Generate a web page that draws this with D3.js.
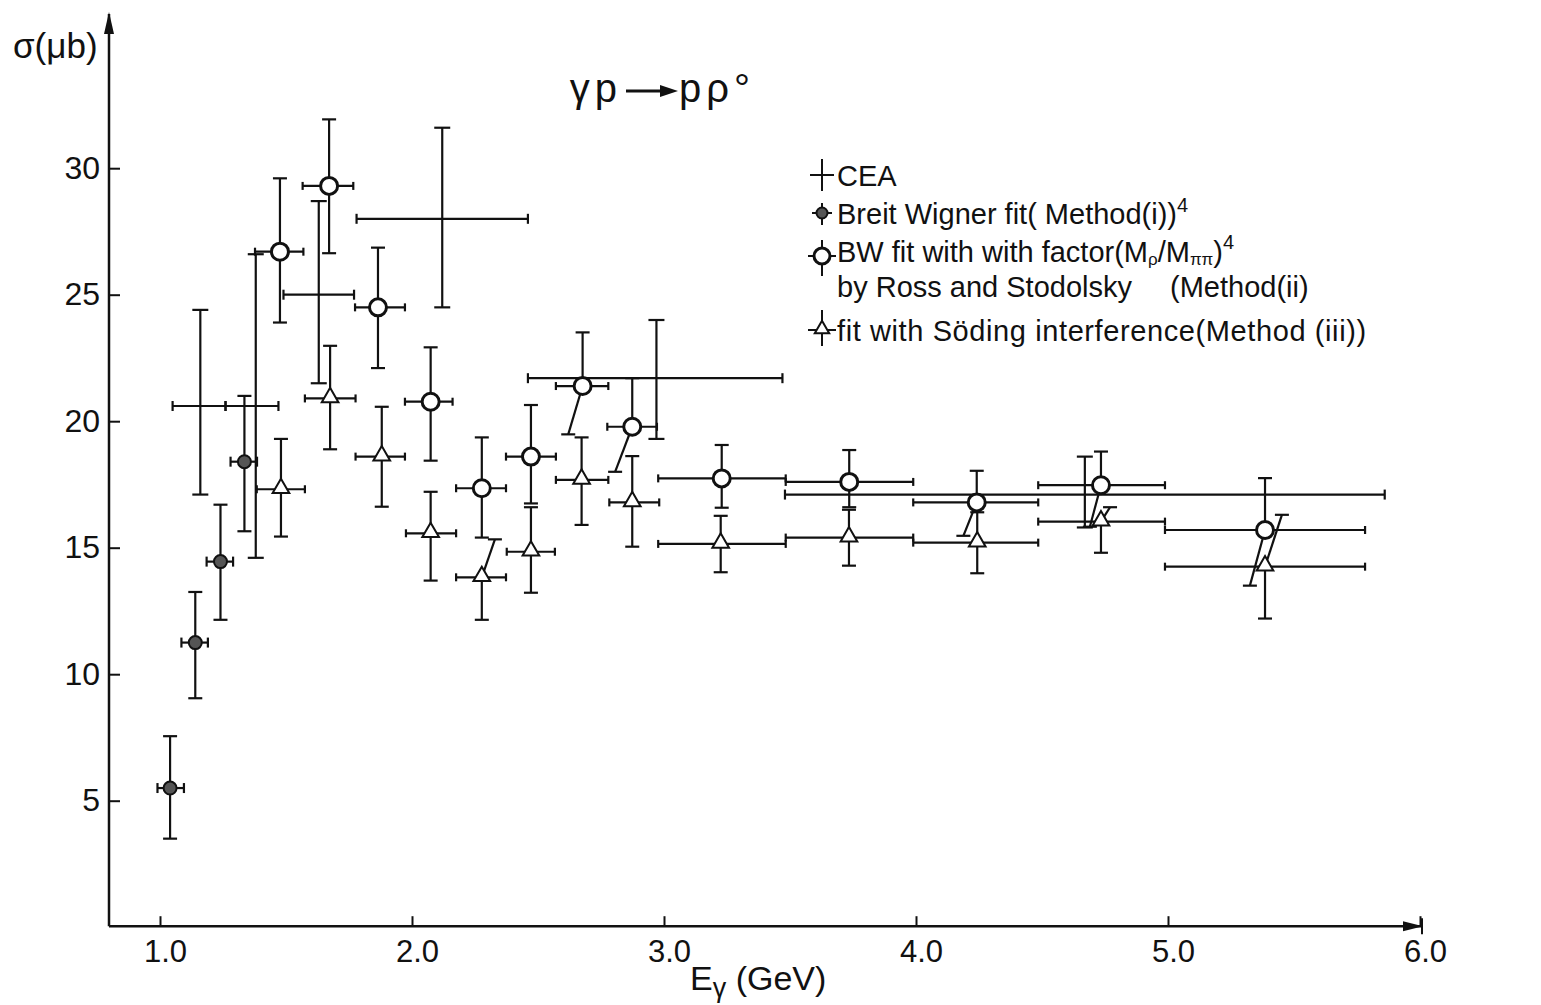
<!DOCTYPE html>
<html>
<head>
<meta charset="utf-8">
<script src="https://cdn.jsdelivr.net/npm/d3@7"></script>
<style>
  body { margin: 0; background: #fff; }
  svg text { font-family: "Liberation Sans", Arial, sans-serif; fill: #111; }
</style>
</head>
<body>
<svg id="chart"></svg>
<script>
// gamma p -> p rho0 cross section vs photon energy

// CEA points (plain crosses)
const ceaE     = [1.16, 1.38, 1.63, 2.12, 2.97, 4.67];
const ceaSig   = [20.6, 20.6, 25.0, 28.0, 21.7, 17.1];
const ceaELo   = [1.05, 1.26, 1.49, 1.78, 2.46, 3.48];
const ceaEHi   = [1.26, 1.47, 1.77, 2.46, 3.47, 5.86];
const ceaSigLo = [17.1, 14.6, 21.5, 24.5, 19.3, 15.8];
const ceaSigHi = [24.4, 26.6, 28.7, 31.6, 24.0, 18.6];

// Breit Wigner fit, method (i) (filled dots)
const bwE     = [1.04, 1.14, 1.24, 1.335];
const bwSig   = [5.5, 11.25, 14.45, 18.4];
const bwELo   = [0.99, 1.085, 1.185, 1.28];
const bwEHi   = [1.095, 1.19, 1.29, 1.385];
const bwSigLo = [3.5, 9.05, 12.15, 15.65];
const bwSigHi = [7.55, 13.25, 16.7, 21.0];

// BW fit with (M_rho/M_pipi)^4 factor, method (ii) (open circles)
const rsE     = [1.476, 1.671, 1.865, 2.074, 2.277, 2.472, 2.677, 2.874, 3.229, 3.735, 4.241, 4.734, 5.385];
const rsSig   = [26.7, 29.3, 24.5, 20.77, 17.35, 18.6, 21.39, 19.78, 17.74, 17.6, 16.79, 17.47, 15.7];
const rsELo   = [1.377, 1.566, 1.774, 1.972, 2.175, 2.373, 2.571, 2.775, 2.977, 3.483, 3.989, 4.485, 4.988];
const rsEHi   = [1.569, 1.767, 1.972, 2.161, 2.373, 2.571, 2.779, 2.972, 3.483, 3.989, 4.485, 4.988, 5.782];
const rsSigLo = [23.9, 26.64, 22.1, 18.44, 15.4, 16.75, 19.48, 18.0, 16.58, 16.6, 15.47, 15.83, 13.5];
const rsSigHi = [29.6, 31.93, 26.86, 22.92, 19.36, 20.64, 23.51, 21.7, 19.06, 18.86, 18.04, 18.8, 17.75];
// energy where a lower error bar is drawn off to the side (null = straight)
const rsLoAt  = [null, null, null, null, null, null, 2.62, 2.806, null, null, 4.188, 4.69, 5.325];

// Soding interference fit, method (iii) (open triangles)
const sdE     = [1.48, 1.675, 1.88, 2.074, 2.277, 2.472, 2.673, 2.874, 3.225, 3.734, 4.243, 4.734, 5.385];
const sdSig   = [17.31, 20.9, 18.6, 15.57, 13.83, 14.84, 17.68, 16.79, 15.15, 15.4, 15.2, 16.03, 14.25];
const sdELo   = [1.384, 1.575, 1.776, 1.976, 2.175, 2.376, 2.571, 2.783, 2.977, 3.483, 3.989, 4.485, 4.988];
const sdEHi   = [1.575, 1.776, 1.972, 2.175, 2.373, 2.567, 2.779, 2.981, 3.483, 3.989, 4.485, 4.988, 5.782];
const sdSigLo = [15.44, 18.89, 16.62, 13.7, 12.15, 13.22, 15.9, 15.04, 14.03, 14.29, 13.99, 14.8, 12.2];
const sdSigHi = [19.3, 22.98, 20.57, 17.21, 15.33, 16.6, 19.36, 18.62, 16.26, 16.5, 16.4, 16.6, 16.3];
const sdHiAt  = [null, null, null, null, 2.329, null, null, null, null, null, null, 4.77, 5.452];

const xTicks = [1.0, 2.0, 3.0, 4.0, 5.0, 6.0];
const yTicks = [5, 10, 15, 20, 25, 30];

const width = 1541, height = 1005;
const svg = d3.select("#chart").attr("width", width).attr("height", height);

const x = d3.scaleLinear().domain([1, 6]).range([160, 1420]);
const y = d3.scaleLinear().domain([0, 30]).range([927.2, 168.2]);

const ink = "#111";

// axes
const xAxis = d3.axisBottom(x).tickValues(xTicks).tickFormat(d3.format(".1f"))
  .tickSizeInner(-10).tickSizeOuter(0).tickPadding(14);
const gx = svg.append("g").attr("transform", `translate(0,${y(0) - 1})`).call(xAxis);
gx.select(".domain").remove();
gx.selectAll(".tick line").attr("stroke", ink).attr("stroke-width", 2);
gx.selectAll(".tick text").style("font-size", "31px").attr("dy", "0.71em").attr("x", 5);

const yAxis = d3.axisLeft(y).tickValues(yTicks).tickSizeInner(-11).tickSizeOuter(0).tickPadding(9);
const gy = svg.append("g").attr("transform", "translate(109,0)").call(yAxis);
gy.select(".domain").remove();
gy.selectAll(".tick line").attr("stroke", ink).attr("stroke-width", 2);
gy.selectAll(".tick text").style("font-size", "32px");

// axis lines with arrows
const x0 = 109, yBase = y(0) - 1;
svg.append("line").attr("x1", x0).attr("x2", 1423).attr("y1", yBase).attr("y2", yBase)
  .attr("stroke", ink).attr("stroke-width", 2.5);
svg.append("path").attr("d", `M1403,${yBase - 5} L1423,${yBase} L1403,${yBase + 5} Z`).attr("fill", ink);
svg.append("line").attr("x1", 1422).attr("x2", 1422).attr("y1", yBase - 8).attr("y2", yBase + 8)
  .attr("stroke", ink).attr("stroke-width", 2);
svg.append("line").attr("x1", x0).attr("x2", x0).attr("y1", yBase).attr("y2", 14)
  .attr("stroke", ink).attr("stroke-width", 2.5);
svg.append("path").attr("d", `M${x0 - 5},34 L${x0},12 L${x0 + 5},34 Z`).attr("fill", ink);

// axis titles
svg.append("text").attr("x", 13).attr("y", 58).style("font-size", "35px").text("σ(μb)");

const xt = svg.append("text").attr("x", 690).attr("y", 990).style("font-size", "34px");
xt.append("tspan").text("E");
xt.append("tspan").attr("dy", 7).style("font-size", "27px").text("γ");
xt.append("tspan").attr("dy", -7).text(" (GeV)");

// reaction title
svg.append("text").attr("x", 622).attr("y", 102).attr("text-anchor", "end")
  .style("font-size", "40px").style("letter-spacing", "5px").text("γp");
svg.append("line").attr("x1", 626).attr("x2", 664).attr("y1", 91).attr("y2", 91)
  .attr("stroke", ink).attr("stroke-width", 3);
svg.append("path").attr("d", "M660,85 L678,91 L660,97 Z").attr("fill", ink);
svg.append("text").attr("x", 679).attr("y", 102)
  .style("font-size", "40px").style("letter-spacing", "5px").text("pρ°");

// ---- error bars ----
function rows(E, S, ELo, EHi, SLo, SHi, loAt, hiAt) {
  return E.map((e, i) => ({
    e, s: S[i], eLo: ELo[i], eHi: EHi[i], sLo: SLo[i], sHi: SHi[i],
    loAt: loAt ? loAt[i] : null, hiAt: hiAt ? hiAt[i] : null
  }));
}

function drawBars(g, data, capW, capH, lw) {
  data.forEach(d => {
    const cx = x(d.e), cy = y(d.s);
    // horizontal bar with end ticks
    g.append("line").attr("x1", x(d.eLo)).attr("x2", x(d.eHi)).attr("y1", cy).attr("y2", cy);
    [d.eLo, d.eHi].forEach(v => {
      g.append("line").attr("x1", x(v)).attr("x2", x(v)).attr("y1", cy - capH).attr("y2", cy + capH);
    });
    // upper bar
    const hx = d.hiAt != null ? x(d.hiAt) : cx;
    g.append("line").attr("x1", cx).attr("x2", hx).attr("y1", cy).attr("y2", y(d.sHi));
    g.append("line").attr("x1", hx - capW).attr("x2", hx + capW).attr("y1", y(d.sHi)).attr("y2", y(d.sHi));
    // lower bar
    const lx = d.loAt != null ? x(d.loAt) : cx;
    g.append("line").attr("x1", cx).attr("x2", lx).attr("y1", cy).attr("y2", y(d.sLo));
    g.append("line").attr("x1", lx - capW).attr("x2", lx + capW).attr("y1", y(d.sLo)).attr("y2", y(d.sLo));
  });
  g.attr("stroke", ink).attr("stroke-width", lw).attr("fill", "none");
}

const ceaData = rows(ceaE, ceaSig, ceaELo, ceaEHi, ceaSigLo, ceaSigHi);
const bwData  = rows(bwE, bwSig, bwELo, bwEHi, bwSigLo, bwSigHi);
const rsData  = rows(rsE, rsSig, rsELo, rsEHi, rsSigLo, rsSigHi, rsLoAt, null);
const sdData  = rows(sdE, sdSig, sdELo, sdEHi, sdSigLo, sdSigHi, null, sdHiAt);

drawBars(svg.append("g"), ceaData, 8, 5, 2.2);
drawBars(svg.append("g"), bwData, 7, 5, 2.2);
drawBars(svg.append("g"), rsData, 7, 4, 2.2);
drawBars(svg.append("g"), sdData, 7, 4, 2.2);

// markers
const tri = d3.symbol().type(d3.symbolTriangle).size(120);

svg.append("g").selectAll("circle").data(bwData).join("circle")
  .attr("cx", d => x(d.e)).attr("cy", d => y(d.s)).attr("r", 6.5)
  .attr("fill", "#555").attr("stroke", ink).attr("stroke-width", 2);

svg.append("g").selectAll("circle").data(rsData).join("circle")
  .attr("cx", d => x(d.e)).attr("cy", d => y(d.s)).attr("r", 8.5)
  .attr("fill", "#fff").attr("stroke", ink).attr("stroke-width", 3);

svg.append("g").selectAll("path").data(sdData).join("path")
  .attr("d", tri).attr("transform", d => `translate(${x(d.e)},${y(d.s) - 1})`)
  .attr("fill", "#fff").attr("stroke", ink).attr("stroke-width", 2);

// ---- legend ----
const lg = svg.append("g").attr("stroke", ink).attr("stroke-width", 2);
const lx = 822;
const legendY = [175, 213, 256, 330];

// CEA cross
lg.append("line").attr("x1", lx - 12).attr("x2", lx + 12).attr("y1", legendY[0]).attr("y2", legendY[0]);
lg.append("line").attr("x1", lx).attr("x2", lx).attr("y1", legendY[0] - 16).attr("y2", legendY[0] + 16);
// dot
lg.append("line").attr("x1", lx - 10).attr("x2", lx + 10).attr("y1", legendY[1]).attr("y2", legendY[1]);
lg.append("line").attr("x1", lx).attr("x2", lx).attr("y1", legendY[1] - 10).attr("y2", legendY[1] + 12);
lg.append("circle").attr("cx", lx).attr("cy", legendY[1]).attr("r", 5.5).attr("fill", "#555");
// open circle
lg.append("line").attr("x1", lx - 14).attr("x2", lx + 14).attr("y1", legendY[2]).attr("y2", legendY[2]);
lg.append("line").attr("x1", lx).attr("x2", lx).attr("y1", legendY[2] - 16).attr("y2", legendY[2] + 20);
lg.append("circle").attr("cx", lx).attr("cy", legendY[2]).attr("r", 8).attr("fill", "#fff").attr("stroke-width", 3);
// triangle
lg.append("line").attr("x1", lx - 14).attr("x2", lx + 14).attr("y1", legendY[3]).attr("y2", legendY[3]);
lg.append("line").attr("x1", lx).attr("x2", lx).attr("y1", legendY[3] - 20).attr("y2", legendY[3] + 16);
lg.append("path").attr("d", d3.symbol().type(d3.symbolTriangle).size(90))
  .attr("transform", `translate(${lx},${legendY[3] - 1})`).attr("fill", "#fff");

const fs = "29px";
const tx = 837;
svg.append("text").attr("x", tx).attr("y", legendY[0] + 11).style("font-size", fs).text("CEA");
const t2 = svg.append("text").attr("x", tx).attr("y", legendY[1] + 11).style("font-size", fs);
t2.append("tspan").text("Breit Wigner fit( Method(i))");
t2.append("tspan").attr("dy", -12).style("font-size", "20px").text("4");
const t3 = svg.append("text").attr("x", tx).attr("y", legendY[2] + 6).style("font-size", fs);
t3.append("tspan").text("BW fit with with factor(M");
t3.append("tspan").attr("dy", 3).style("font-size", "17px").text("ρ");
t3.append("tspan").attr("dy", -3).text("/M");
t3.append("tspan").attr("dy", 3).style("font-size", "17px").text("ππ");
t3.append("tspan").attr("dy", -3).text(")");
t3.append("tspan").attr("dy", -13).style("font-size", "20px").text("4");
svg.append("text").attr("x", tx).attr("y", legendY[2] + 41).style("font-size", fs)
  .text("by Ross and Stodolsky");
svg.append("text").attr("x", 1170).attr("y", legendY[2] + 41).style("font-size", fs)
  .text("(Method(ii)");
svg.append("text").attr("x", tx).attr("y", legendY[3] + 11).style("font-size", fs)
  .style("letter-spacing", "0.6px")
  .text("fit with Söding interference(Method (iii))");
</script>
</body>
</html>
